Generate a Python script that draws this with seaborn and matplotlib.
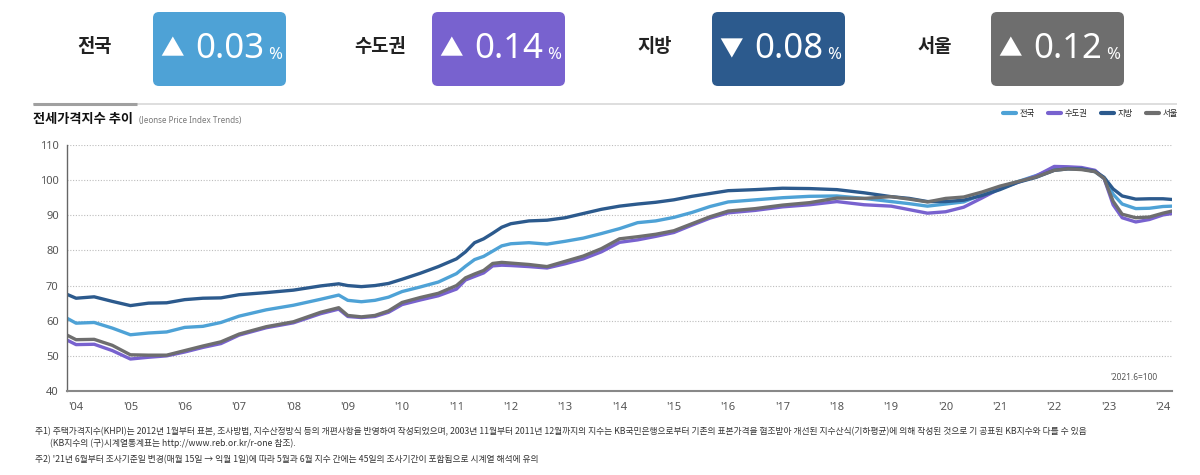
import matplotlib
matplotlib.use("Agg")
import numpy as np
import pandas as pd
import matplotlib.pyplot as plt
import seaborn as sns
from matplotlib.patches import FancyBboxPatch
from matplotlib.lines import Line2D

# ── data (2021.6 = 100) ──────────────────────────────────────
MONTHS = [
    "2003-11", "2004-01", "2004-05", "2004-09", "2005-01", "2005-05", "2005-09",
    "2006-01", "2006-05", "2006-09", "2007-01", "2007-07", "2008-01", "2008-07",
    "2008-11", "2009-01", "2009-04", "2009-07", "2009-10", "2010-01", "2010-05",
    "2010-09", "2011-01", "2011-03", "2011-05", "2011-07", "2011-09", "2011-11",
    "2012-01", "2012-05", "2012-09", "2013-01", "2013-05", "2013-09", "2014-01",
    "2014-05", "2014-09", "2015-01", "2015-05", "2015-09", "2016-01", "2016-07",
    "2017-01", "2017-07", "2018-01", "2018-07", "2019-01", "2019-05", "2019-09",
    "2020-01", "2020-05", "2020-09", "2021-01", "2021-05", "2021-09", "2022-01",
    "2022-04", "2022-07", "2022-10", "2022-12", "2023-02", "2023-04", "2023-07",
    "2023-10", "2024-01", "2024-03",
]

NATIONWIDE = [
    60.7, 59.3, 59.5, 57.9, 56.0, 56.5, 56.8, 58.1, 58.4, 59.5, 61.3, 63.1, 64.4, 66.1,
    67.3, 65.8, 65.4, 65.8, 66.7, 68.3, 69.6, 71.0, 73.4, 75.5, 77.4, 78.3, 79.8, 81.3,
    81.9, 82.2, 81.8, 82.6, 83.5, 84.8, 86.2, 87.9, 88.4, 89.4, 90.8, 92.5, 93.8, 94.4,
    95.0, 95.4, 95.5, 94.8, 93.9, 93.3, 92.6, 93.2, 93.8, 95.9, 98.0, 99.6, 101.3, 103.2,
    103.4, 103.3, 102.4, 100.5, 96.0, 93.2, 91.9, 92.0, 92.5, 92.6,
]

CAPITAL = [
    54.5, 53.2, 53.3, 51.5, 49.1, 49.6, 50.0, 51.1, 52.4, 53.5, 55.9, 58.0, 59.4, 62.0,
    63.3, 61.2, 60.9, 61.2, 62.4, 64.6, 65.9, 67.1, 69.0, 71.6, 72.6, 73.6, 75.6, 75.8,
    75.7, 75.4, 75.0, 76.2, 77.6, 79.6, 82.3, 83.0, 84.0, 85.1, 87.2, 89.2, 90.7, 91.4,
    92.4, 93.0, 93.9, 93.0, 92.6, 91.6, 90.6, 91.0, 92.3, 94.9, 97.6, 99.4, 101.2, 103.9,
    103.8, 103.6, 102.8, 100.5, 93.0, 89.3, 88.1, 88.8, 90.1, 90.5,
]

PROVINCES = [
    67.5, 66.4, 66.8, 65.5, 64.3, 65.0, 65.1, 66.0, 66.4, 66.5, 67.4, 68.0, 68.7, 69.9,
    70.5, 70.0, 69.7, 70.0, 70.6, 71.8, 73.5, 75.4, 77.6, 79.6, 82.2, 83.3, 84.9, 86.6,
    87.6, 88.4, 88.6, 89.3, 90.5, 91.7, 92.6, 93.2, 93.7, 94.4, 95.4, 96.2, 97.0, 97.3,
    97.7, 97.6, 97.3, 96.4, 95.3, 94.8, 93.9, 93.9, 94.3, 95.6, 97.3, 99.4, 100.8, 102.8,
    103.2, 103.2, 102.5, 100.8, 97.5, 95.5, 94.6, 94.7, 94.7, 94.5,
]

SEOUL = [
    55.9, 54.6, 54.7, 53.0, 50.3, 50.2, 50.2, 51.5, 52.8, 54.0, 56.2, 58.3, 59.7, 62.4,
    63.7, 61.5, 61.1, 61.5, 62.8, 65.2, 66.6, 67.8, 70.0, 72.2, 73.3, 74.3, 76.3, 76.6,
    76.4, 76.0, 75.4, 76.9, 78.4, 80.5, 83.3, 83.9, 84.6, 85.6, 87.6, 89.6, 91.2, 91.9,
    92.9, 93.6, 94.9, 94.8, 95.3, 94.6, 93.8, 94.8, 95.2, 96.6, 98.3, 99.6, 100.9, 102.8,
    103.2, 103.0, 102.4, 100.5, 94.0, 90.3, 89.3, 89.5, 90.6, 91.2,
]

REGIONS = ["전국", "수도권", "지방", "서울"]
COLORS = ["#4ea2d6", "#7862cf", "#2c5a8d", "#6e6e6e"]
CHANGES = [0.03, 0.14, -0.08, 0.12]
YEAR_TICKS = list(range(2004, 2025))

FOOT1 = ("주1) 주택가격지수(KHPI)는 2012년 1월부터 표본, 조사방법, 지수산정방식 등의 개편사항을 반영하여 작성되었으며, "
         "2003년 11월부터 2011년 12월까지의 지수는 KB국민은행으로부터 기존의 표본가격을 협조받아 개선된 지수산식(기하평균)에 "
         "의해 작성된 것으로 기 공표된 KB지수와 다를 수 있음")
FOOT1B = "(KB지수의 (구)시계열통계표는 http://www.reb.or.kr/r-one 참조)."
FOOT2 = "주2) '21년 6월부터 조사기준일 변경(매월 15일 → 익월 1일)에 따라 5월과 6월 지수 간에는 45일의 조사기간이 포함됨으로 시계열 해석에 유의"

# ── tidy frame ───────────────────────────────────────────────
t = [int(m[:4]) + (int(m[5:]) - 1) / 12 for m in MONTHS]
df = pd.DataFrame({
    "t": t * 4,
    "value": NATIONWIDE + CAPITAL + PROVINCES + SEOUL,
    "region": np.repeat(REGIONS, len(t)),
})

# ── style ────────────────────────────────────────────────────
sns.set_theme(style="white")
plt.rcParams["font.family"] = ["Noto Sans CJK KR", "DejaVu Sans"]
LATIN = ["Noto Sans", "DejaVu Sans"]

fig = plt.figure(figsize=(12, 4.75), dpi=100)

# overlay in pixel coordinates for the header / footnotes
ov = fig.add_axes([0, 0, 1, 1])
ov.set_xlim(0, 1200)
ov.set_ylim(475, 0)
ov.axis("off")

renderer = fig.canvas.get_renderer()
box_x = [153, 432, 712, 991]
label_x = [95, 380, 655, 935]
for name, color, chg, bx, lx in zip(REGIONS, COLORS, CHANGES, box_x, label_x):
    ov.add_patch(FancyBboxPatch((bx, 12), 133, 74,
                                boxstyle="round,pad=0,rounding_size=6",
                                fc=color, ec="none"))
    ov.text(lx, 47, name, ha="center", va="center", fontsize=13.5,
            fontweight="bold", color="#222222")
    ov.text(bx + 19, 50, "▲" if chg > 0 else "▼", ha="center", va="center",
            fontsize=17, color="white")
    num = ov.text(bx + 42, 49, f"{abs(chg):.2f}", ha="left", va="center",
                  fontsize=25, color="white", fontweight="light", family=LATIN)
    bb = num.get_window_extent(renderer)
    ov.text(bb.x1 + 4, 55, "%", ha="left", va="center", fontsize=12,
            color="white", family=LATIN)

# separator + title
ov.plot([33, 1177], [104, 104], color="#d8d8d8", lw=1.2, solid_capstyle="butt")
ov.plot([33, 137], [104, 104], color="#a0a0a0", lw=2.2, solid_capstyle="butt")
ov.text(33, 119, "전세가격지수 추이", ha="left", va="center", fontsize=9.5,
        fontweight="bold", color="#111111")
ov.text(139, 120, "(Jeonse Price Index Trends)", ha="left", va="center",
        fontsize=5.8, color="#777777", family=LATIN)

# footnotes
ov.text(35, 432, FOOT1, ha="left", va="center", fontsize=6.3, color="#333333")
ov.text(50, 443, FOOT1B, ha="left", va="center", fontsize=6.3, color="#333333")
ov.text(35, 460, FOOT2, ha="left", va="center", fontsize=6.3, color="#333333")

# ── main chart ───────────────────────────────────────────────
ax = fig.add_axes([67 / 1200, 84 / 475, 1105 / 1200, 246 / 475])
ax.set_facecolor("none")
sns.lineplot(data=df, x="t", y="value", hue="region", hue_order=REGIONS,
             palette=dict(zip(REGIONS, COLORS)), estimator=None,
             linewidth=2.4, legend=False, ax=ax)

ax.set_xlim(t[0], t[-1])
ax.set_ylim(40, 110)
ax.set_yticks(range(40, 111, 10))
ax.set_xticks(YEAR_TICKS)
ax.set_xticklabels([f"'{y % 100:02d}" for y in YEAR_TICKS])
ax.set_xlabel("")
ax.set_ylabel("")
ax.yaxis.grid(True, linestyle=(0, (1, 1.5)), color="#bdbdbd", lw=0.8)
ax.xaxis.grid(False)
for s in ["top", "right"]:
    ax.spines[s].set_visible(False)
ax.spines["left"].set_color("#666666")
ax.spines["left"].set_linewidth(1.0)
ax.spines["bottom"].set_color("#888888")
ax.spines["bottom"].set_linewidth(1.5)
ax.tick_params(axis="y", length=0, pad=6, labelsize=8, labelcolor="#555555")
ax.tick_params(axis="x", length=0, pad=8, labelsize=8, labelcolor="#555555")
for lab in ax.get_xticklabels() + ax.get_yticklabels():
    lab.set_family(LATIN)

ax.text(0.987, 0.053, "'2021.6=100", transform=ax.transAxes, ha="right",
        va="center", fontsize=6, color="#555555", family=LATIN)

handles = [Line2D([0], [0], color=c, lw=3) for c in COLORS]
fig.legend(handles, REGIONS, loc="upper right",
           bbox_to_anchor=(1178 / 1200, 1 - 109 / 475), ncol=4, frameon=False,
           fontsize=6, handlelength=1.6, handletextpad=0.4, columnspacing=1.6,
           borderaxespad=0, borderpad=0)

plt.savefig("out.png", dpi=100)
